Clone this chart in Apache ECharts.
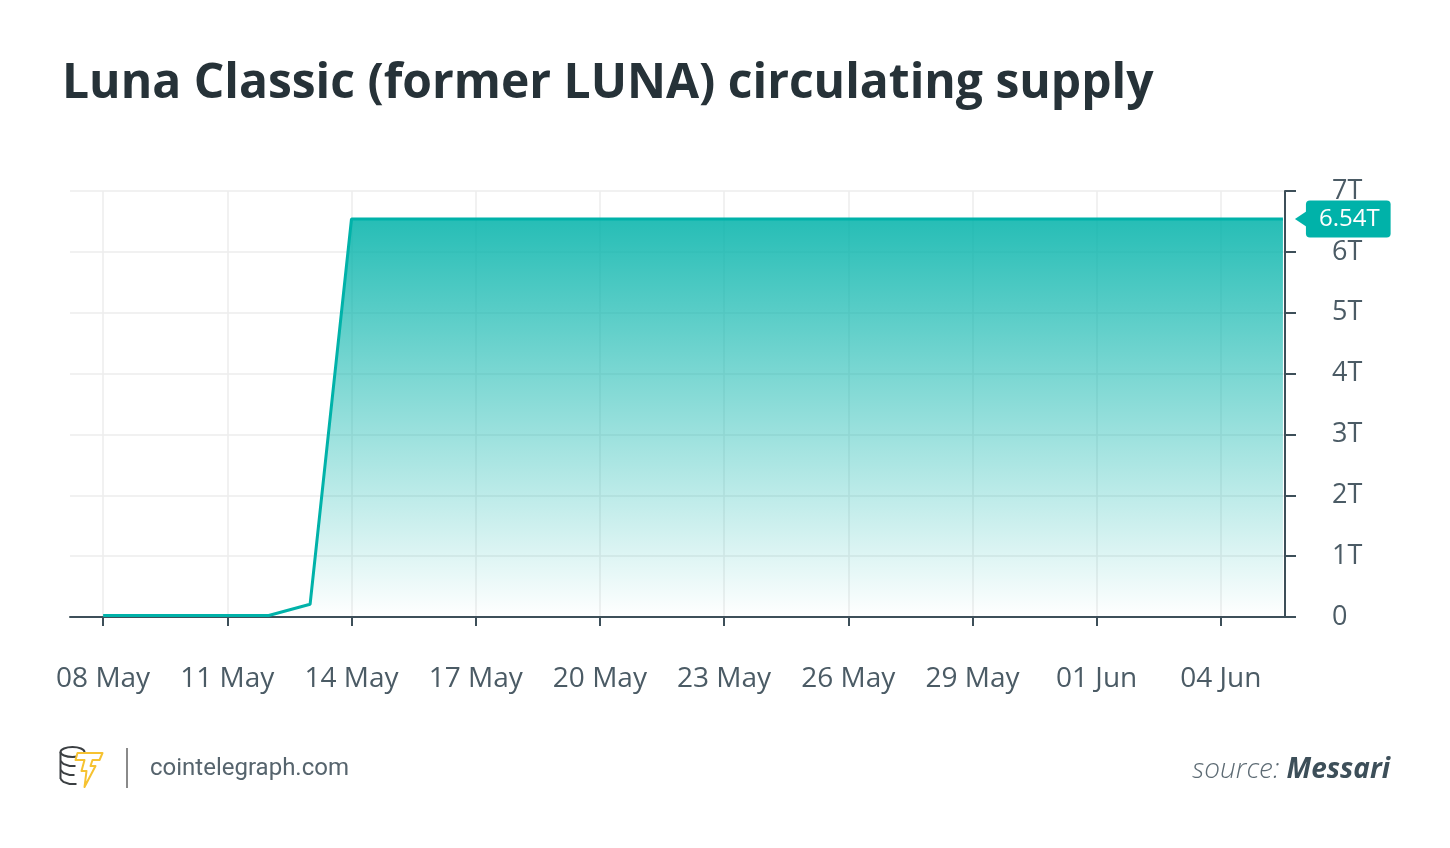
<!DOCTYPE html>
<html>
<head>
<meta charset="utf-8">
<script src="https://cdn.jsdelivr.net/npm/echarts@6/dist/echarts.min.js"></script>
<style>
html,body{margin:0;padding:0;background:#fff;}
#chart{width:1450px;height:848px;}
</style>
</head>
<body>
<div id="chart"></div>
<script>
// ---- data ----
const dates = [
  '2022-05-08','2022-05-09','2022-05-10','2022-05-11','2022-05-12','2022-05-13',
  '2022-05-14','2022-05-15','2022-05-16','2022-05-17','2022-05-18','2022-05-19',
  '2022-05-20','2022-05-21','2022-05-22','2022-05-23','2022-05-24','2022-05-25',
  '2022-05-26','2022-05-27','2022-05-28','2022-05-29','2022-05-30','2022-05-31',
  '2022-06-01','2022-06-02','2022-06-03','2022-06-04','2022-06-05','2022-06-05T12:00:00Z'
];
const supplyT = [
  0.025,0.025,0.025,0.025,0.025,0.21,
  6.54,6.54,6.54,6.54,6.54,6.54,
  6.54,6.54,6.54,6.54,6.54,6.54,
  6.54,6.54,6.54,6.54,6.54,6.54,
  6.54,6.54,6.54,6.54,6.54,6.54
];
const tickDates = ['2022-05-08','2022-05-11','2022-05-14','2022-05-17','2022-05-20',
  '2022-05-23','2022-05-26','2022-05-29','2022-06-01','2022-06-04'];
const monthNames = ['Jan','Feb','Mar','Apr','May','Jun','Jul','Aug','Sep','Oct','Nov','Dec'];
const yMax = 7;

const DAY = 86400000;
const toTs = d => Date.parse(d.length === 10 ? d + 'T00:00:00Z' : d);
const startTs = toTs(dates[0]);
const toDay = d => (toTs(d) - startTs) / DAY;   // days since first date
const seriesData = dates.map((d, i) => [toDay(d), supplyT[i]]);
const tickDays = tickDates.map(toDay);
const lastPoint = seriesData[seriesData.length - 1];

const axisColor = '#3d4f59';
const labelColor = '#4b5b65';
const teal = '#00b2a9';

const chart = echarts.init(document.getElementById('chart'), null, {renderer: 'canvas'});
chart.setOption({
  animation: false,
  backgroundColor: '#fff',
  title: {
    text: 'Luna Classic (former LUNA) circulating supply',
    left: 57, top: 55,
    textStyle: {fontFamily: 'Open Sans', fontWeight: 700, fontSize: 48, color: '#263238'}
  },
  grid: {left: 70, right: 165, top: 191, bottom: 231, containLabel: false},
  xAxis: {
    type: 'value',
    min: -0.8, max: 28.55,
    axisLine: {show: true, onZero: false, lineStyle: {color: axisColor, width: 2}},
    axisTick: {show: true, length: 9, lineStyle: {color: axisColor, width: 2}, customValues: tickDays},
    axisLabel: {
      customValues: tickDays,
      margin: 48,
      fontFamily: 'Open Sans', fontSize: 28, color: labelColor,
      formatter: function (v) {
        const d = new Date(startTs + v * DAY);
        const dd = String(d.getUTCDate()).padStart(2, '0');
        return dd + ' ' + monthNames[d.getUTCMonth()];
      }
    },
    splitLine: {show: true, lineStyle: {color: '#ececec', width: 1.5}}
  },
  yAxis: {
    type: 'value',
    position: 'right',
    min: 0, max: yMax, interval: 1,
    axisLine: {show: true, onZero: false, lineStyle: {color: axisColor, width: 2}},
    axisTick: {show: true, length: 11, lineStyle: {color: axisColor, width: 2}},
    axisLabel: {
      margin: 47,
      fontFamily: 'Open Sans', fontSize: 27, color: labelColor,
      formatter: v => v === 0 ? '0' : v + 'T'
    },
    splitLine: {show: true, lineStyle: {color: '#ececec', width: 1.5}}
  },
  series: [{
    type: 'line',
    data: seriesData,
    showSymbol: false,
    symbol: 'none',
    lineStyle: {color: teal, width: 3},
    areaStyle: {
      opacity: 1,
      color: new echarts.graphic.LinearGradient(0, 0, 0, 1, [
        {offset: 0, color: 'rgba(0,178,169,0.85)'},
        {offset: 1, color: 'rgba(0,178,169,0.0)'}
      ])
    },
    endLabel: {
      show: true,
      distance: 23,
      formatter: p => p.value[1].toFixed(2) + 'T',
      backgroundColor: teal,
      color: '#fff',
      fontFamily: 'Open Sans', fontSize: 24,
      padding: [7, 11, 6, 13],
      borderRadius: 4
    },
    markPoint: {
      silent: true,
      symbol: 'triangle',
      symbolSize: [16, 12],
      symbolRotate: 90,
      symbolOffset: [18, 0],
      itemStyle: {color: teal},
      label: {show: false},
      data: [{coord: lastPoint}]
    },
    z: 3
  }],
  graphic: [
    {type: 'group', left: 58, top: 746, children: [
      {type: 'ellipse', shape: {cx: 13, cy: 6, rx: 12, ry: 5}, style: {fill: '#fff', stroke: '#3b3f42', lineWidth: 2}},
      {type: 'line', shape: {x1: 1, y1: 6, x2: 1, y2: 33}, style: {stroke: '#3b3f42', lineWidth: 2}},
      {type: 'line', shape: {x1: 25, y1: 6, x2: 25, y2: 12}, style: {stroke: '#3b3f42', lineWidth: 2}},
      {type: 'polyline', shape: {points: [[1,15],[4,18],[10,20],[16,20]]}, style: {stroke: '#3b3f42', lineWidth: 2, fill: 'none'}},
      {type: 'polyline', shape: {points: [[1,24],[4,27],[10,29],[15,29]]}, style: {stroke: '#3b3f42', lineWidth: 2, fill: 'none'}},
      {type: 'polyline', shape: {points: [[1,33],[4,36],[10,38],[17,38]]}, style: {stroke: '#3b3f42', lineWidth: 2, fill: 'none'}},
      {type: 'polygon', shape: {points: [[18,7],[43,7],[40,14],[33,14],[31,20],[36,20],[25,41],[27,25],[22,25],[25,14],[16,14]]},
        style: {fill: '#fff', stroke: '#f6c231', lineWidth: 2, lineJoin: 'round'}}
    ]},
    {type: 'rect', shape: {x: 126, y: 748, width: 2, height: 40}, style: {fill: '#8a8a8a'}},
    {type: 'text', left: 150, top: 757, style: {text: 'cointelegraph.com', font: '400 24px Roboto', fill: '#56646d'}},
    {type: 'text', right: 60, top: 756, style: {
      text: '{a|source: }{b|Messari}',
      rich: {
        a: {fontFamily: 'Open Sans', fontStyle: 'italic', fontWeight: 300, fontSize: 28, fill: '#5d6b74'},
        b: {fontFamily: 'Open Sans', fontStyle: 'italic', fontWeight: 700, fontSize: 28, fill: '#3d4f59'}
      }
    }}
  ]
});
</script>
</body>
</html>
